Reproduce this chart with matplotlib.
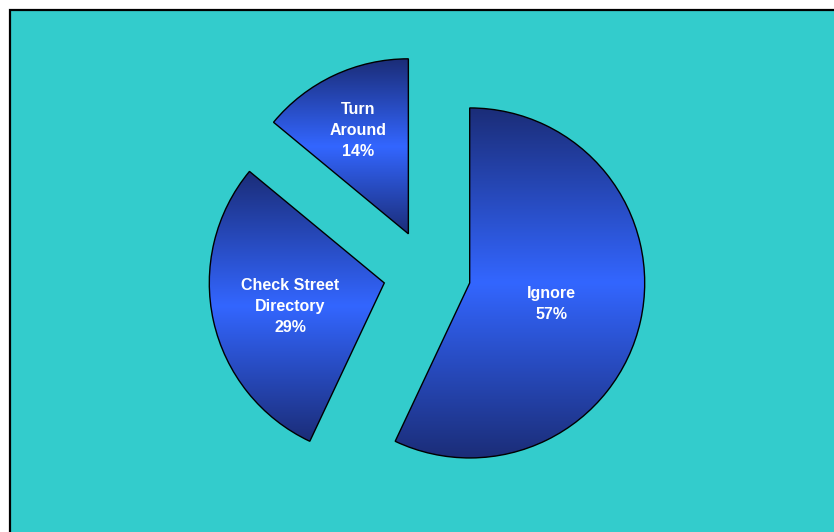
import numpy as np
import matplotlib
matplotlib.use("Agg")
import matplotlib.pyplot as plt
from matplotlib.colors import LinearSegmentedColormap
from matplotlib.patches import Rectangle

labels = ["Ignore", "Check Street\nDirectory", "Turn\nAround"]
values = [57, 29, 14]

W, H = 834, 532
BG = "#33CCCC"
DARK = "#1B2D78"
BRIGHT = "#3366FF"

# pixels per data unit and pie centre in pixels (from top-left)
SCALE = 175.0
CX, CY = 427.0, 273.4
label_dist = [0.48, 0.55, 0.67]

fig = plt.figure(figsize=(W / 100, H / 100), dpi=100)
fig.patch.set_facecolor("white")
fig.patches.append(Rectangle((10 / W, -0.1), 1.2, (H - 10) / H + 0.1,
                             transform=fig.transFigure, facecolor=BG,
                             edgecolor="black", linewidth=1.6, zorder=-1))

ax = fig.add_axes([0, 0, 1, 1])
ax.set_facecolor("none")
ax.set_zorder(1)

wedges, _ = ax.pie(values, startangle=90, counterclock=False, radius=1.0,
                   explode=[0.25] * len(values),
                   wedgeprops=dict(edgecolor="black", linewidth=1.0))

cmap = LinearSegmentedColormap.from_list("band", [DARK, BRIGHT, DARK])
grad = np.linspace(0, 1, 256).reshape(-1, 1)

for w, lab, v, d in zip(wedges, labels, values, label_dist):
    cx, cy = w.center
    th = np.radians(np.linspace(w.theta1, w.theta2, 400))
    xs = np.concatenate([[cx], cx + w.r * np.cos(th)])
    ys = np.concatenate([[cy], cy + w.r * np.sin(th)])
    w.set_facecolor("none")
    w.set_zorder(3)
    im = ax.imshow(grad, cmap=cmap, aspect="auto", interpolation="bilinear",
                   extent=[xs.min(), xs.max(), ys.min(), ys.max()], zorder=2)
    im.set_clip_path(w)
    mid = np.radians((w.theta1 + w.theta2) / 2)
    ax.text(cx + d * np.cos(mid), cy + d * np.sin(mid) - 0.015,
            f"{lab}\n{v}%", ha="center", va="center", color="white",
            fontweight="bold", fontsize=11.5, family="Liberation Sans",
            linespacing=1.48, zorder=4)

ax.set_xlim(-CX / SCALE, (W - CX) / SCALE)
ax.set_ylim(-(H - CY) / SCALE, CY / SCALE)
ax.set_aspect("auto")
ax.axis("off")

fig.savefig("out.png", dpi=100, facecolor=fig.get_facecolor())
